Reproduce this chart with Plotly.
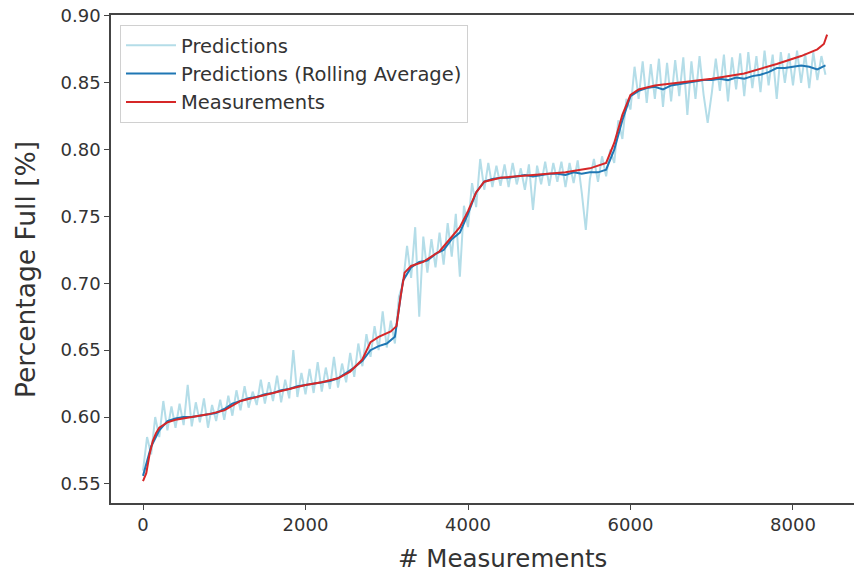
import plotly.graph_objects as go

# ---------------- data ----------------
# Predictions (raw, noisy) sampled every 50 measurements, 0..8400
pred_x = list(range(0, 8401, 50))
pred_y = [
    0.560, 0.585, 0.572, 0.600, 0.585, 0.612, 0.590, 0.608, 0.592, 0.610,
    0.594, 0.624, 0.593, 0.611, 0.596, 0.614, 0.592, 0.609, 0.597, 0.613,
    0.598, 0.616, 0.601, 0.620, 0.605, 0.623, 0.607, 0.619, 0.609, 0.628,
    0.610, 0.626, 0.612, 0.631, 0.611, 0.628, 0.614, 0.650, 0.615, 0.633,
    0.617, 0.636, 0.618, 0.641, 0.619, 0.637, 0.621, 0.645, 0.622, 0.640,
    0.626, 0.648, 0.630, 0.655, 0.638, 0.662, 0.645, 0.668, 0.650, 0.679,
    0.652, 0.672, 0.655, 0.690, 0.700, 0.728, 0.704, 0.742, 0.675, 0.735,
    0.708, 0.733, 0.712, 0.738, 0.714, 0.745, 0.720, 0.752, 0.705, 0.758,
    0.742, 0.775, 0.757, 0.793, 0.770, 0.790, 0.772, 0.788, 0.773, 0.789,
    0.772, 0.790, 0.774, 0.786, 0.770, 0.789, 0.755, 0.788, 0.774, 0.791,
    0.773, 0.790, 0.776, 0.791, 0.772, 0.790, 0.775, 0.792, 0.768, 0.740,
    0.778, 0.793, 0.776, 0.795, 0.780, 0.800, 0.790, 0.822, 0.808, 0.838,
    0.830, 0.862, 0.838, 0.866, 0.835, 0.864, 0.838, 0.868, 0.832, 0.865,
    0.836, 0.867, 0.840, 0.869, 0.826, 0.866, 0.838, 0.870, 0.841, 0.820,
    0.842, 0.868, 0.844, 0.871, 0.836, 0.869, 0.845, 0.872, 0.840, 0.873,
    0.846, 0.870, 0.843, 0.874, 0.848, 0.871, 0.838, 0.873, 0.850, 0.872,
    0.848, 0.874, 0.850, 0.872, 0.846, 0.873, 0.852, 0.870, 0.856,
]

# Rolling average of predictions, every 100 measurements
roll_x = list(range(0, 8401, 100))
roll_y = [
    0.556, 0.578, 0.590, 0.597, 0.599, 0.600, 0.600, 0.601, 0.602, 0.603,
    0.606, 0.610, 0.612, 0.614, 0.615, 0.617, 0.618, 0.620, 0.621, 0.623,
    0.624, 0.625, 0.626, 0.627, 0.629, 0.633, 0.637, 0.642, 0.650, 0.653,
    0.655, 0.660, 0.702, 0.712, 0.716, 0.717, 0.722, 0.725, 0.733, 0.738,
    0.752, 0.768, 0.776, 0.778, 0.779, 0.779, 0.780, 0.781, 0.780, 0.781,
    0.782, 0.782, 0.781, 0.783, 0.782, 0.783, 0.783, 0.785, 0.800, 0.822,
    0.840, 0.844, 0.846, 0.847, 0.845, 0.848, 0.849, 0.850, 0.851, 0.852,
    0.852, 0.853, 0.852, 0.854, 0.853, 0.855, 0.856, 0.858, 0.861, 0.861,
    0.862, 0.863, 0.862, 0.860, 0.863,
]

# Measurements
meas_x = [0, 40, 80, 120, 160, 200, 300, 400, 600, 800, 1000, 1200, 1400,
          1600, 1800, 2000, 2200, 2400, 2550, 2700, 2800, 2900, 3050, 3120,
          3170, 3220, 3300, 3450, 3650, 3800, 3900, 4000, 4100, 4200, 4400,
          4800, 5200, 5500, 5700, 5800, 5900, 6000, 6100, 6300, 6600, 7000,
          7400, 7800, 8100, 8300, 8380, 8420]
meas_y = [0.552, 0.558, 0.572, 0.582, 0.588, 0.592, 0.596, 0.598, 0.600,
          0.602, 0.605, 0.612, 0.615, 0.618, 0.621, 0.624, 0.626, 0.629,
          0.634, 0.643, 0.656, 0.660, 0.664, 0.668, 0.690, 0.708, 0.713,
          0.716, 0.724, 0.735, 0.742, 0.754, 0.768, 0.776, 0.779, 0.781,
          0.783, 0.786, 0.790, 0.805, 0.826, 0.841, 0.845, 0.848, 0.850,
          0.853, 0.857, 0.864, 0.870, 0.875, 0.879, 0.886]

x_ticks = [0, 2000, 4000, 6000, 8000]
y_ticks = [0.55, 0.60, 0.65, 0.70, 0.75, 0.80, 0.85, 0.90]

# ---------------- figure ----------------
FONT = "DejaVu Sans"
fig = go.Figure()
fig.add_trace(go.Scatter(x=pred_x, y=pred_y, mode="lines", name="Predictions",
                         line=dict(color="#b4dde8", width=2),
                         legendgroup="a"))
fig.add_trace(go.Scatter(x=roll_x, y=roll_y, mode="lines",
                         name="Predictions (Rolling Average)",
                         line=dict(color="#1f77b4", width=2),
                         legendgroup="b"))
fig.add_trace(go.Scatter(x=meas_x, y=meas_y, mode="lines", name="Measurements",
                         line=dict(color="#d62728", width=2),
                         legendgroup="c"))

L, T, B = 111, 15, 69
W, H = 854, 572
pw = W - L
ph = H - T - B

fig.update_layout(
    width=W, height=H,
    margin=dict(l=L, r=0, t=T, b=B, pad=0),
    paper_bgcolor="white", plot_bgcolor="white",
    font=dict(family=FONT, color="#333", size=18),
    showlegend=True,
    legend=dict(x=(120 - L) / pw, y=(H - B - 25) / ph,
                xanchor="left", yanchor="top",
                bgcolor="rgba(255,255,255,0.85)",
                bordercolor="#d0d0d0", borderwidth=1,
                font=dict(size=19.5, color="#333"),
                itemwidth=50,
                tracegroupgap=0),
    xaxis=dict(range=[-394, 8751], tickvals=x_ticks,
               ticktext=[str(v) for v in x_ticks],
               showgrid=False, zeroline=False,
               showline=True, linecolor="#444", linewidth=1.5, mirror=True,
               ticks="outside", ticklen=5, tickcolor="#444",
               tickfont=dict(size=18, color="#333")),
    yaxis=dict(range=[0.5357, 0.9007], tickvals=y_ticks,
               ticktext=[f"{v:.2f}" for v in y_ticks],
               showgrid=False, zeroline=False,
               showline=True, linecolor="#444", linewidth=1.5,
               ticks="outside", ticklen=5, tickcolor="#444",
               tickfont=dict(size=18, color="#333")),
    annotations=[
        dict(text="# Measurements", xref="paper", yref="paper",
             x=(502 - L) / pw, y=(H - B - 558) / ph,
             xanchor="center", yanchor="middle", showarrow=False,
             font=dict(size=24.5, color="#333", family=FONT)),
        dict(text="Percentage Full [%]", xref="paper", yref="paper",
             x=(25 - L) / pw, y=(H - B - 270) / ph, textangle=-90,
             xanchor="center", yanchor="middle", showarrow=False,
             font=dict(size=26.5, color="#333", family=FONT)),
    ],
)

fig.write_html("out.html")
